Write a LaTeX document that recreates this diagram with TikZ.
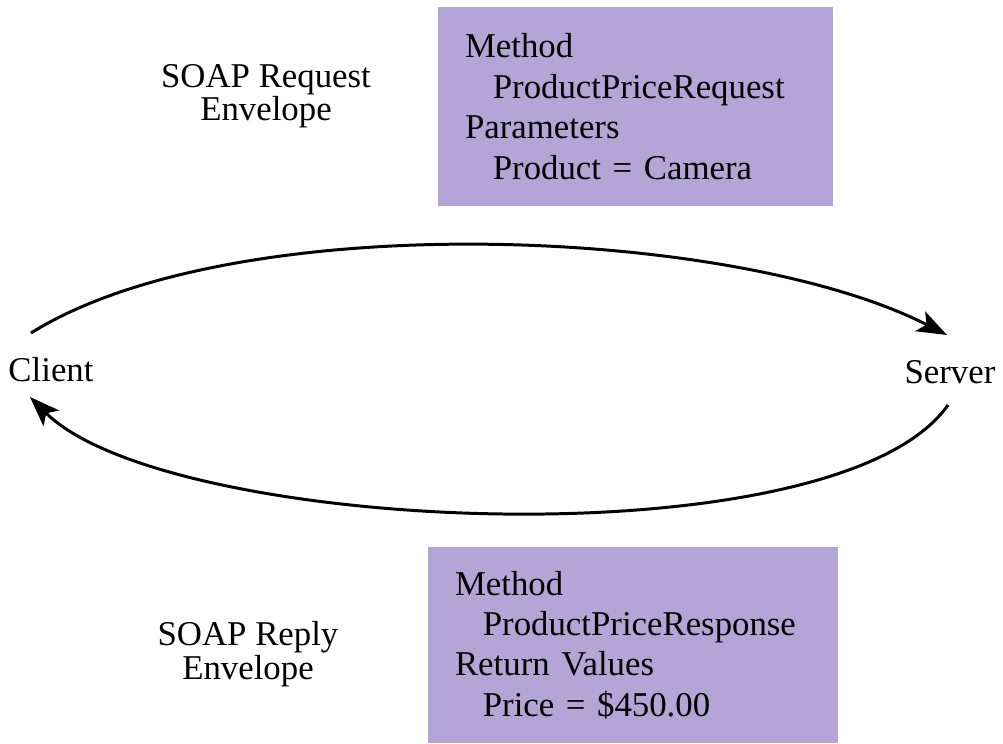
\documentclass[tikz,border=0pt]{standalone}
\usepackage{xcolor}
\usepackage{fontspec}
\setmainfont{Liberation Serif}
\usepackage{tikz}
\usetikzlibrary{arrows.meta}

\definecolor{envfill}{RGB}{180,165,215}

\tikzset{
    envbox/.style={fill=envfill, align=left, inner xsep=0.54cm,
        font=\fontsize{19.8}{23}\selectfont},
    envlabel/.style={align=center, font=\fontsize{19.8}{16.5}\selectfont},
    endpoint/.style={font=\fontsize{19.8}{23}\selectfont},
    message/.style={line width=1.7pt, -{Stealth[length=0.6cm, width=0.44cm, inset=0.14cm]}}
}

\begin{document}
\begin{tikzpicture}[x=0.02cm, y=0.02cm]

    % Tamanho da figura
    \useasboundingbox (0,0) rectangle (1003,743);

    % Cliente e servidor
    \node[endpoint] (client) at (51,373) {Client};
    \node[endpoint] (server) at (950,371) {Server};

    % Envelope de pedido
    \node[envbox, text width=6.82cm, minimum height=3.98cm] (request) at (635.5,636.5)
        {Method\\\hspace*{0.8em}ProductPriceRequest\\Parameters\\\hspace*{0.8em}Product = Camera};
    \node[envlabel] (requestlabel) at (266,647) {SOAP Request\\Envelope};

    % Envelope de resposta
    \node[envbox, text width=7.12cm, minimum height=3.92cm] (reply) at (633,98)
        {Method\\\hspace*{0.8em}ProductPriceResponse\\Return Values\\\hspace*{0.8em}Price = \$450.00};
    \node[envlabel] (replylabel) at (248,89) {SOAP Reply\\Envelope};

    % Pedido (cliente -> servidor)
    \draw[message] ([shift={(-20,37)}]client.center)
        .. controls +(32:240) and +(153:240) .. ([shift={(-3,37)}]server.center);

    % Resposta (servidor -> cliente)
    \draw[message] ([shift={(-2,-33)}]server.center)
        .. controls +(235:194) and +(315:194) .. ([shift={(-21,-27)}]client.center);

\end{tikzpicture}
\end{document}
